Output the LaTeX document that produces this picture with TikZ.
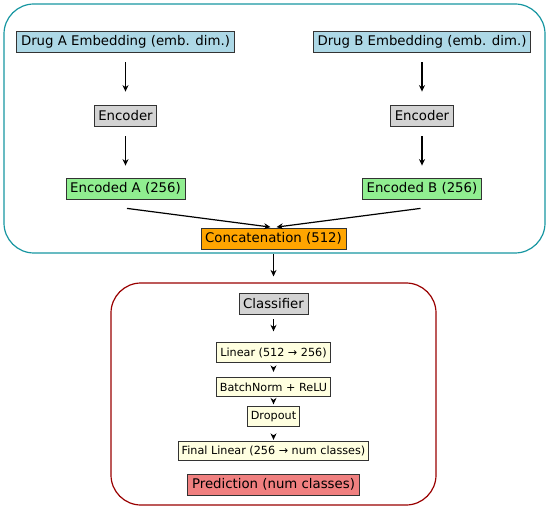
\documentclass[tikz,border=0pt]{standalone}
\usepackage{fontspec}
\setmainfont{DejaVu Sans}
\usetikzlibrary{arrows.meta}
\definecolor{embblue}{HTML}{ADD8E6}
\definecolor{encgray}{HTML}{D3D3D3}
\definecolor{encgreen}{HTML}{90EE90}
\definecolor{catorange}{HTML}{FFA500}
\definecolor{layeryellow}{HTML}{FFFFE0}
\definecolor{predred}{HTML}{F08080}
\definecolor{frameteal}{HTML}{1796A1}
\definecolor{framered}{HTML}{990000}
\newcommand{\bigtxt}{\fontsize{13.3}{16}\selectfont}
\newcommand{\smalltxt}{\fontsize{11.2}{13}\selectfont}
\tikzset{
  blk/.style={draw=black!80, line width=0.8pt, inner xsep=4.2pt, inner ysep=0pt,
    minimum height=21pt, font=\bigtxt},
  layer/.style={blk, fill=layeryellow, minimum height=19.5pt, inner xsep=3.5pt,
    font=\smalltxt},
  frame/.style={rounded corners=30pt, line width=1.2pt, inner sep=0pt},
  arr/.style={-{Stealth[length=6.5pt,width=6pt]}, line width=1.2pt}
}
\begin{document}
\begin{tikzpicture}[x=1pt,y=-1pt]
    \useasboundingbox (0,0) rectangle (548,510);
    \node[frame, draw=frameteal, minimum width=541pt, minimum height=249pt]
      (encframe) at (274.5,128.5) {};
    \node[frame, draw=framered, minimum width=325pt, minimum height=222pt]
      (clsframe) at (273.5,394) {};

    \node[blk, fill=embblue] (embA) at (125.5,41.5) {Drug A Embedding (emb. dim.)};
    \node[blk, fill=embblue] (embB) at (422,41.5) {Drug B Embedding (emb. dim.)};
    \node[blk, fill=encgray] (encA) at (125.5,115.5) {Encoder};
    \node[blk, fill=encgray] (encB) at (422,115.5) {Encoder};
    \node[blk, fill=encgreen] (codeA) at (125.5,188.5) {Encoded A (256)};
    \node[blk, fill=encgreen] (codeB) at (422,188.5) {Encoded B (256)};
    \node[blk, fill=catorange] (concat) at (273.5,238.5) {Concatenation (512)};

    \node[blk, fill=encgray] (cls) at (273.5,303.5) {Classifier};
    \node[layer] (lin) at (273.5,352.5) {Linear (512 → 256)};
    \node[layer] (bn) at (273.5,387) {BatchNorm + ReLU};
    \node[layer] (drop) at (273.5,416.5) {Dropout};
    \node[layer] (final) at (273.5,451) {Final Linear (256 → num classes)};
    \node[blk, fill=predred] (pred) at (273.5,484.5) {Prediction (num classes)};

    \foreach \src/\dst in {embA/encA, embB/encB}
      \draw[arr, shorten <=10pt, shorten >=13pt] (\src.south) -- (\dst.north);
    \foreach \src/\dst in {encA/codeA, encB/codeB}
      \draw[arr, shorten <=10pt, shorten >=12pt] (\src.south) -- (\dst.north);
    \draw[arr] ([xshift=1.5pt,yshift=-9pt]codeA.south) -- ([xshift=-3pt,yshift=0.5pt]concat.north);
    \draw[arr] ([xshift=-1.5pt,yshift=-9pt]codeB.south) -- ([xshift=3pt,yshift=0.5pt]concat.north);
    \draw[arr, shorten <=5pt, shorten >=6pt] (concat.south) -- (clsframe.north);
    \draw[arr, shorten <=5pt, shorten >=11pt] (cls.south) -- (lin.north);
    \draw[arr, shorten <=4pt, shorten >=5pt] (lin.south) -- (bn.north);
    \draw[arr, shorten <=3pt, shorten >=2pt] (bn.south) -- (drop.north);
    \draw[arr, shorten <=8pt, shorten >=1pt] (drop.south) -- (final.north);
\end{tikzpicture}
\end{document}
